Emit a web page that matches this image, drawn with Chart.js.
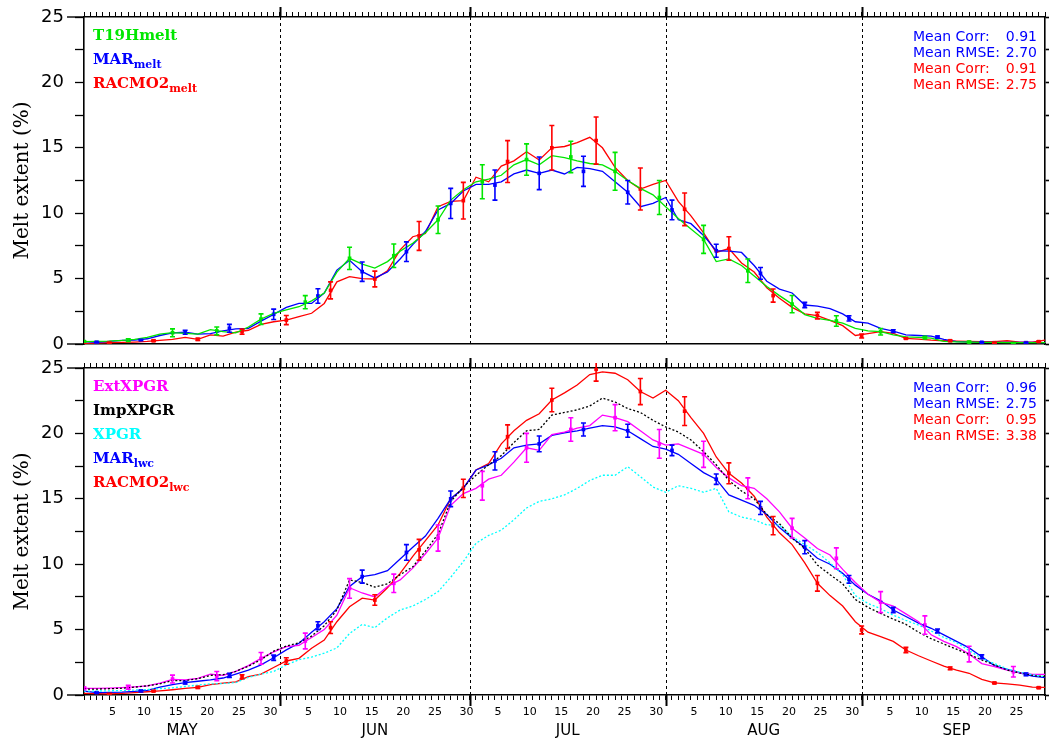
<!DOCTYPE html>
<html>
<head>
<meta charset="utf-8">
<title>Melt extent</title>
<script src="https://cdn.jsdelivr.net/npm/chart.js@4.4.1/dist/chart.umd.min.js"></script>
<style>
  html, body { margin: 0; padding: 0; background: #fff; }
  #wrap { position: relative; width: 1049px; height: 742px; }
  canvas { position: absolute; left: 0; }
  #topChart { top: 0; }
  #bottomChart { top: 356px; }
</style>
</head>
<body>
<div id="wrap">
  <canvas id="topChart" width="1049" height="356"></canvas>
  <canvas id="bottomChart" width="1049" height="386"></canvas>
</div>
<script>
// axis / category data
const MONTHS = ['MAY', 'JUN', 'JUL', 'AUG', 'SEP'];
const MONTH_START = [0, 31, 61, 92, 123];
const MONTH_LEN = [31, 30, 31, 31, 30];
const DAY_LABELS = [5, 10, 15, 20, 25, 30];
const Y_TICKS = [0, 2.5, 5, 7.5, 10, 12.5, 15, 17.5, 20, 22.5, 25];
const X_MIN = 0;
const X_MAX = 152;

// days since 1 May at which the curves were read
const DAYS = [0, 2, 4, 6, 8, 10, 12, 14, 16, 18, 20, 22, 24, 26, 28, 30, 32, 34, 36, 38,
  40, 42, 44, 46, 48, 50, 52, 54, 56, 58, 60, 62, 64, 66, 68, 70, 72, 74, 76, 78,
  80, 82, 84, 86, 88, 90, 92, 94, 96, 98, 100, 102, 104, 106, 108, 110, 112, 114, 116, 118,
  120, 122, 124, 126, 128, 130, 132, 134, 136, 138, 140, 142, 144, 146, 148, 150, 152];

// ---- top panel (melt) ----
const T19H_MELT = [0.18, 0.2, 0.22, 0.27, 0.35, 0.5, 0.75, 0.87, 0.82, 0.75,
  1.1, 0.95, 0.85, 1.3, 1.9, 2.35, 2.6, 2.85, 3.3, 3.9,
  5.5, 6.55, 6.1, 5.8, 6.3, 7.1, 7.7, 8.5, 9.5, 11.0,
  11.8, 12.4, 12.6, 12.9, 13.7, 14.1, 13.7, 14.4, 14.25, 14.0,
  13.8, 13.7, 13.2, 12.5, 11.9, 11.4, 10.5, 9.6, 8.8, 8.0,
  6.3, 6.5, 6.0, 5.2, 4.4, 3.7, 3.05, 2.25, 1.96, 1.8,
  1.6, 1.2, 1.0, 0.94, 0.7, 0.55, 0.5, 0.45, 0.2, 0.17,
  0.15, 0.13, 0.12, 0.1, 0.1, 0.1, 0.1];
const MAR_MELT = [0.18, 0.13, 0.2, 0.27, 0.3, 0.4, 0.65, 0.85, 0.9, 0.75,
  0.8, 1.0, 1.15, 1.2, 1.75, 2.27, 2.8, 3.1, 3.1, 3.9,
  5.65, 6.4, 5.53, 5.05, 5.5, 6.5, 7.6, 8.6, 10.25, 10.75,
  11.7, 12.2, 12.2, 12.4, 13.0, 13.3, 13.05, 13.3, 13.0, 13.5,
  13.4, 13.2, 12.4, 11.6, 10.5, 10.75, 11.2, 9.5, 9.2, 8.3,
  7.13, 7.1, 7.0, 6.0, 4.8, 4.2, 3.9, 2.98, 2.9, 2.7,
  2.3, 1.7, 1.6, 1.2, 0.99, 0.7, 0.65, 0.6, 0.35, 0.18,
  0.15, 0.13, 0.13, 0.13, 0.13, 0.12, 0.1];
const RACMO_MELT = [0.05, 0.07, 0.1, 0.12, 0.15, 0.2, 0.28, 0.36, 0.5, 0.36,
  0.7, 0.6, 0.9, 1.05, 1.5, 1.7, 1.83, 2.1, 2.35, 3.1,
  4.75, 5.15, 5.0, 4.97, 5.6, 7.2, 8.2, 8.45, 10.5, 10.9,
  10.96, 12.75, 12.4, 13.6, 14.0, 14.7, 14.07, 15.0, 15.1, 15.4,
  15.8, 15.0, 13.5, 12.5, 11.85, 12.2, 12.5, 10.9, 9.8, 8.5,
  7.0, 7.3, 6.2, 5.5, 4.3, 3.5, 2.8, 2.3, 2.17, 1.8,
  1.4, 0.65, 0.8, 0.94, 0.82, 0.43, 0.38, 0.3, 0.25, 0.22,
  0.2, 0.18, 0.18, 0.25, 0.15, 0.15, 0.3];

const T19H_MK_DAYS = [0, 7, 14, 21, 28, 35, 42, 49, 56, 63, 70, 77, 84, 91, 98, 105, 112, 119, 126, 133, 140, 147];
const T19H_MK = [0.18, 0.3, 0.86, 1.0, 1.9, 3.2, 6.55, 6.75, 9.5, 12.4, 14.1, 14.3, 13.2, 11.2, 8.0, 5.6, 3.05, 1.76, 0.94, 0.48, 0.15, 0.08];
const T19H_ERR = [0.05, 0.1, 0.3, 0.3, 0.4, 0.5, 0.85, 0.9, 1.05, 1.3, 1.2, 1.2, 1.45, 1.3, 1.07, 0.9, 0.66, 0.4, 0.25, 0.1, 0.05, 0.03];
const MAR_MK_DAYS = [2, 9, 16, 23, 30, 37, 44, 51, 58, 65, 72, 79, 86, 93, 100, 107, 114, 121, 128, 135, 142, 149];
const MAR_MELT_MK = [0.13, 0.3, 0.9, 1.2, 2.27, 3.67, 5.53, 7.06, 10.75, 12.15, 13.05, 13.2, 11.6, 10.25, 7.13, 5.4, 2.98, 1.96, 0.99, 0.53, 0.13, 0.1];
const MAR_MELT_ERR = [0.05, 0.05, 0.15, 0.3, 0.4, 0.55, 0.74, 0.75, 1.15, 1.15, 1.25, 1.15, 0.9, 0.75, 0.5, 0.45, 0.2, 0.2, 0.1, 0.08, 0.03, 0.03];
const RACMO_MK_DAYS = [4, 11, 18, 25, 32, 39, 46, 53, 60, 67, 74, 81, 88, 95, 102, 109, 116, 123, 130, 137, 144, 151];
const RACMO_MELT_MK = [0.1, 0.25, 0.36, 0.94, 1.83, 4.1, 4.97, 8.26, 10.96, 13.95, 15.0, 15.55, 11.85, 10.3, 7.3, 3.7, 2.17, 0.61, 0.43, 0.25, 0.1, 0.18];
const RACMO_MELT_ERR = [0.05, 0.05, 0.08, 0.2, 0.35, 0.65, 0.6, 1.1, 1.4, 1.6, 1.7, 1.8, 1.6, 1.25, 0.9, 0.5, 0.25, 0.15, 0.05, 0.05, 0.03, 0.05];

// ---- bottom panel (liquid water content) ----
const EXT_XPGR = [0.5, 0.5, 0.52, 0.56, 0.62, 0.7, 0.9, 1.2, 1.15, 1.27,
  1.6, 1.5, 1.8, 2.25, 2.8, 3.3, 3.7, 3.8, 4.4, 5.0,
  6.1, 8.2, 7.8, 7.5, 8.3, 8.8, 9.7, 10.8, 12.0, 14.5,
  15.4, 15.8, 16.5, 16.8, 17.8, 18.9, 18.7, 19.9, 20.1, 20.4,
  20.6, 21.4, 21.2, 20.9, 20.2, 19.5, 19.1, 19.2, 18.8, 18.4,
  17.4, 16.6, 16.0, 15.8, 15.0, 14.0, 12.75, 12.0, 11.2, 10.7,
  9.6, 8.6, 7.7, 7.1, 6.8, 6.2, 5.6, 4.6, 4.1, 3.7,
  3.13, 2.4, 2.17, 1.9, 1.7, 1.58, 1.58];
const IMP_XPGR = [0.45, 0.45, 0.48, 0.52, 0.6, 0.7, 0.85, 1.1, 1.1, 1.25,
  1.5, 1.55, 1.8, 2.2, 2.7, 3.35, 3.75, 4.0, 4.5, 5.3,
  6.5, 8.8, 8.6, 8.25, 8.5, 9.2, 9.8, 11.0, 12.3, 14.8,
  15.9, 16.8, 17.6, 18.3, 19.3, 20.2, 20.3, 21.4, 21.6, 21.8,
  22.1, 22.7, 22.4, 21.9, 21.6, 21.0, 20.5, 20.1, 19.5, 18.6,
  17.6, 16.4, 15.6, 15.0, 13.8, 13.1, 12.0, 11.2, 9.94, 9.2,
  8.5, 7.3, 6.7, 6.24, 5.8, 5.4, 4.8, 4.3, 3.9, 3.5,
  3.1, 2.68, 2.3, 1.9, 1.7, 1.5, 1.4];
const XPGR = [0.3, 0.3, 0.32, 0.34, 0.38, 0.42, 0.48, 0.55, 0.65, 0.76,
  0.85, 0.88, 0.95, 1.35, 1.6, 1.8, 2.3, 2.7, 2.9, 3.2,
  3.6, 4.7, 5.4, 5.15, 5.9, 6.5, 6.8, 7.3, 7.9, 9.0,
  10.2, 11.6, 12.2, 12.6, 13.4, 14.3, 14.8, 15.0, 15.3, 15.8,
  16.4, 16.8, 16.8, 17.45, 16.7, 15.9, 15.5, 16.0, 15.8, 15.5,
  15.8, 14.0, 13.6, 13.4, 13.0, 13.0, 12.1, 11.5, 10.9, 10.1,
  9.2, 7.6, 7.0, 6.6, 6.1, 5.7, 5.35, 4.9, 4.4, 4.0,
  3.4, 2.8, 2.4, 2.0, 1.75, 1.55, 1.4];
const MAR_LWC = [0.3, 0.18, 0.2, 0.22, 0.27, 0.35, 0.6, 0.8, 0.94, 1.05,
  1.15, 1.3, 1.6, 1.9, 2.3, 2.85, 3.45, 3.95, 4.8, 5.6,
  6.6, 8.3, 9.05, 9.2, 9.5, 10.4, 11.3, 12.15, 13.5, 15.0,
  15.8, 17.2, 17.6, 18.1, 18.9, 19.1, 19.2, 19.85, 20.05, 20.2,
  20.4, 20.6, 20.5, 20.2, 19.6, 19.0, 18.8, 18.4, 17.7, 17.0,
  16.5, 15.3, 14.9, 14.5, 13.8, 12.8, 12.0, 11.3, 10.45, 10.0,
  9.3, 8.4, 7.7, 7.2, 6.5, 6.0, 5.5, 5.1, 4.6, 4.1,
  3.6, 2.93, 2.25, 1.95, 1.7, 1.45, 1.33];
const RACMO_LWC = [0.12, 0.1, 0.08, 0.12, 0.18, 0.25, 0.32, 0.4, 0.5, 0.59,
  0.8, 0.9, 1.0, 1.4, 1.6, 2.1, 2.6, 2.8, 3.57, 4.2,
  5.6, 6.75, 7.4, 7.26, 8.2, 9.3, 10.6, 11.8, 13.0, 15.0,
  15.8, 17.2, 17.7, 19.2, 20.2, 21.0, 21.5, 22.55, 23.1, 23.7,
  24.5, 24.7, 24.6, 24.1, 23.2, 22.7, 23.3, 22.5, 21.2, 20.0,
  18.2, 16.95, 16.2, 15.2, 13.6, 12.4, 11.5, 10.1, 8.54, 7.6,
  6.8, 5.6, 4.8, 4.46, 4.1, 3.44, 3.0, 2.6, 2.2, 1.9,
  1.66, 1.2, 0.92, 0.85, 0.76, 0.6, 0.58];

const EXT_MK_DAYS = [0, 7, 14, 21, 28, 35, 42, 49, 56, 63, 70, 77, 84, 91, 98, 105, 112, 119, 126, 133, 140, 147];
const EXT_MK = [0.5, 0.59, 1.22, 1.45, 2.8, 4.13, 8.15, 8.54, 12.0, 16.0, 18.9, 20.3, 21.2, 19.2, 18.4, 15.8, 12.75, 10.45, 7.1, 5.35, 3.13, 1.78];
const EXT_ERR = [0.1, 0.15, 0.3, 0.35, 0.45, 0.6, 0.75, 0.7, 1.0, 1.1, 1.1, 0.9, 1.0, 1.1, 1.0, 0.8, 0.75, 0.8, 0.8, 0.7, 0.6, 0.4];
const MAR_LWC_MK = [0.18, 0.3, 0.94, 1.5, 2.85, 5.3, 9.05, 10.9, 15.0, 17.9, 19.2, 20.3, 20.2, 18.7, 16.5, 14.3, 11.3, 8.84, 6.5, 4.9, 2.93, 1.58];
const MAR_LWC_ERR = [0.05, 0.07, 0.1, 0.15, 0.2, 0.3, 0.5, 0.6, 0.6, 0.7, 0.6, 0.5, 0.5, 0.4, 0.4, 0.5, 0.5, 0.3, 0.2, 0.15, 0.15, 0.1];
const RACMO_LWC_MK = [0.08, 0.3, 0.59, 1.4, 2.6, 5.15, 7.26, 11.1, 15.8, 19.75, 22.55, 24.9, 23.2, 21.7, 16.95, 12.95, 8.54, 4.97, 3.44, 2.04, 0.92, 0.56];
const RACMO_LWC_ERR = [0.05, 0.05, 0.08, 0.15, 0.25, 0.45, 0.4, 0.8, 0.7, 0.9, 0.9, 0.9, 1.0, 1.1, 0.8, 0.7, 0.6, 0.3, 0.2, 0.1, 0.06, 0.05];

// legend texts [main, subscript] and statistics
const LEGEND_TOP = [['T19Hmelt', ''], ['MAR', 'melt'], ['RACMO2', 'melt']];
const LEGEND_BOTTOM = [['ExtXPGR', ''], ['ImpXPGR', ''], ['XPGR', ''], ['MAR', 'lwc'], ['RACMO2', 'lwc']];
const STATS_TOP = [['Mean Corr:', '0.91'], ['Mean RMSE:', '2.70'], ['Mean Corr:', '0.91'], ['Mean RMSE:', '2.75']];
const STATS_BOTTOM = [['Mean Corr:', '0.96'], ['Mean RMSE:', '2.75'], ['Mean Corr:', '0.95'], ['Mean RMSE:', '3.38']];

// colours
const GREEN = '#00e600';
const BLUE = '#0000ff';
const RED = '#ff0000';
const MAGENTA = '#ff00ff';
const CYAN = '#00ffff';
const BLACK = '#000000';

Chart.defaults.font.family = 'DejaVu Sans';
Chart.defaults.color = '#000';

const pts = (xs, ys) => xs.map((x, i) => ({ x: x, y: ys[i] }));

function lineSet(label, values, color, dash) {
    return {
        type: 'line', label: label, data: pts(DAYS, values),
        borderColor: color, borderWidth: 1.3, borderDash: dash || [],
        pointRadius: 0, tension: 0, fill: false
    };
}

function markerSet(label, days, values, errors, color) {
    return {
        type: 'scatter', label: label, data: pts(days, values), errors: errors,
        backgroundColor: color, borderColor: color, borderWidth: 0,
        pointStyle: 'rect', pointRadius: 2.6
    };
}

function dayTicks() {
    const t = [];
    for (let d = X_MIN; d <= X_MAX; d++) t.push({ value: d });
    return t;
}

// day-of-month labels sit in the middle of their day
const LABEL_TICKS = [];
MONTH_START.forEach((start, m) => {
    DAY_LABELS.forEach(day => {
        const pos = start + day - 0.5;
        if (day <= MONTH_LEN[m] && pos <= X_MAX) LABEL_TICKS.push({ value: pos, text: String(day) });
    });
});

// keep the plot area fixed: no extra room for half labels
function fixH(h) {
    return s => { s.height = h; s.paddingLeft = 0; s.paddingRight = 0; };
}
function fixW(w) {
    return s => { s.width = w; s.paddingTop = 0; s.paddingBottom = 0; };
}

// error bars for marker datasets
const errorBars = {
    id: 'errorBars',
    afterDatasetsDraw(chart) {
        const { ctx, scales: { x, y } } = chart;
        ctx.save();
        ctx.beginPath();
        ctx.rect(chart.chartArea.left, chart.chartArea.top - 5, chart.chartArea.width, chart.chartArea.height + 5);
        ctx.clip();
        chart.data.datasets.forEach(ds => {
            if (!ds.errors) return;
            ctx.strokeStyle = ds.borderColor;
            ctx.lineWidth = 1.6;
            ds.data.forEach((p, i) => {
                const e = ds.errors[i];
                const px = x.getPixelForValue(p.x);
                const y1 = y.getPixelForValue(p.y - e);
                const y2 = y.getPixelForValue(p.y + e);
                ctx.beginPath();
                ctx.moveTo(px, y1); ctx.lineTo(px, y2);
                ctx.moveTo(px - 2.5, y1); ctx.lineTo(px + 2.5, y1);
                ctx.moveTo(px - 2.5, y2); ctx.lineTo(px + 2.5, y2);
                ctx.stroke();
            });
        });
        ctx.restore();
    }
};

// dashed month separators and long month ticks
const monthLines = {
    id: 'monthLines',
    beforeDatasetsDraw(chart) {
        const { ctx, chartArea: a, scales: { x } } = chart;
        ctx.save();
        ctx.strokeStyle = '#000';
        ctx.lineWidth = 1;
        ctx.setLineDash([3, 3]);
        MONTH_START.slice(1).forEach(d => {
            const px = Math.round(x.getPixelForValue(d)) + 0.5;
            ctx.beginPath(); ctx.moveTo(px, a.top); ctx.lineTo(px, a.bottom); ctx.stroke();
        });
        ctx.restore();
    },
    afterDraw(chart, args, opts) {
        const { ctx, chartArea: a, scales: { x, y } } = chart;
        ctx.save();
        ctx.strokeStyle = '#000';
        ctx.lineWidth = 2;
        MONTH_START.slice(1).forEach(d => {
            const px = Math.round(x.getPixelForValue(d)) + 0.5;
            ctx.beginPath(); ctx.moveTo(px, a.top); ctx.lineTo(px, a.top - 10); ctx.stroke();
            if (opts.bottom) {
                ctx.beginPath(); ctx.moveTo(px, a.bottom); ctx.lineTo(px, a.bottom + 11); ctx.stroke();
            }
        });
        ctx.lineWidth = 1.4;
        [0, 25].forEach(v => {
            const py = y.getPixelForValue(v);
            ctx.beginPath(); ctx.moveTo(a.left - 17, py); ctx.lineTo(a.left, py); ctx.stroke();
        });
        ctx.restore();
    }
};

// in-panel legend and statistics text
const panelText = {
    id: 'panelText',
    afterDraw(chart, args, opts) {
        const { ctx, chartArea: a } = chart;
        ctx.save();
        ctx.textBaseline = 'middle';
        opts.legend.forEach((item, i) => {
            const yy = a.top + 19 + i * 24;
            ctx.fillStyle = opts.legendColors[i];
            ctx.font = 'bold 15px "DejaVu Serif"';
            ctx.textAlign = 'left';
            ctx.fillText(item[0], a.left + 9, yy);
            if (item[1]) {
                const w = ctx.measureText(item[0]).width;
                ctx.font = 'bold 11px "DejaVu Serif"';
                ctx.fillText(item[1], a.left + 9 + w, yy + 5);
            }
        });
        ctx.font = '14px "DejaVu Sans"';
        opts.stats.forEach((row, i) => {
            const yy = a.top + 20 + i * 16;
            ctx.fillStyle = opts.statColors[i];
            ctx.textAlign = 'left';
            ctx.fillText(row[0], a.right - 132, yy);
            ctx.textAlign = 'right';
            ctx.fillText(row[1], a.right - 8, yy);
        });
        ctx.restore();
    }
};

function yAxes() {
    return {
        y: {
            position: 'left', min: 0, max: 25,
            afterBuildTicks: s => { s.ticks = Y_TICKS.map(v => ({ value: v })); },
            ticks: {
                autoSkip: false, padding: 11, color: '#000',
                font: { family: 'DejaVu Sans', size: 18 },
                callback: v => (v % 5 === 0 ? String(v) : '')
            },
            grid: { drawOnChartArea: false, tickLength: 9, tickColor: '#000', tickWidth: 1.3 },
            border: { color: '#000', width: 1.6 },
            title: {
                display: true, text: 'Melt extent (%)', color: '#000',
                font: { family: 'DejaVu Serif', size: 20 }, padding: { top: 11, bottom: 0 }
            },
            afterFit: fixW(84)
        },
        yr: {
            position: 'right', min: 0, max: 25,
            afterBuildTicks: s => { s.ticks = Y_TICKS.map(v => ({ value: v })); },
            ticks: { display: false },
            grid: { drawOnChartArea: false, tickLength: 4, tickColor: '#000', tickWidth: 1.6 },
            border: { color: '#000', width: 1.6 },
            afterFit: fixW(4)
        }
    };
}

function topTickAxis(h) {
    return {
        type: 'linear', position: 'top', min: X_MIN, max: X_MAX,
        afterBuildTicks: s => { s.ticks = dayTicks(); },
        ticks: { display: false },
        grid: { drawOnChartArea: false, tickLength: 5, tickColor: '#000', tickWidth: 1 },
        border: { color: '#000', width: 1.6 },
        afterFit: fixH(h)
    };
}

const baseOptions = {
    responsive: false,
    animation: false,
    layout: { padding: 0 },
    events: []
};

// ---- top chart ----
new Chart(document.getElementById('topChart'), {
    type: 'line',
    data: {
        datasets: [
            lineSet('T19Hmelt', T19H_MELT, GREEN),
            lineSet('MARmelt', MAR_MELT, BLUE),
            lineSet('RACMO2melt', RACMO_MELT, RED),
            markerSet('T19Hmelt obs', T19H_MK_DAYS, T19H_MK, T19H_ERR, GREEN),
            markerSet('MARmelt pts', MAR_MK_DAYS, MAR_MELT_MK, MAR_MELT_ERR, BLUE),
            markerSet('RACMO2melt pts', RACMO_MK_DAYS, RACMO_MELT_MK, RACMO_MELT_ERR, RED)
        ]
    },
    options: Object.assign({}, baseOptions, {
        scales: Object.assign({
            x: {
                type: 'linear', position: 'bottom', min: X_MIN, max: X_MAX,
                afterBuildTicks: s => { s.ticks = [{ value: X_MIN }, { value: X_MAX }]; },
                ticks: { display: false },
                grid: { display: false, drawTicks: false },
                border: { color: '#000', width: 1.6 },
                afterFit: fixH(12)
            },
            xt: topTickAxis(17)
        }, yAxes()),
        plugins: {
            legend: { display: false },
            tooltip: { enabled: false },
            monthLines: { bottom: false },
            panelText: {
                legend: LEGEND_TOP, legendColors: [GREEN, BLUE, RED],
                stats: STATS_TOP, statColors: [BLUE, BLUE, RED, RED]
            }
        }
    }),
    plugins: [monthLines, errorBars, panelText]
});

// ---- bottom chart ----
new Chart(document.getElementById('bottomChart'), {
    type: 'line',
    data: {
        datasets: [
            lineSet('XPGR', XPGR, CYAN, [2, 2]),
            lineSet('ImpXPGR', IMP_XPGR, BLACK, [2, 2]),
            lineSet('ExtXPGR', EXT_XPGR, MAGENTA),
            lineSet('MARlwc', MAR_LWC, BLUE),
            lineSet('RACMO2lwc', RACMO_LWC, RED),
            markerSet('ExtXPGR pts', EXT_MK_DAYS, EXT_MK, EXT_ERR, MAGENTA),
            markerSet('MARlwc pts', MAR_MK_DAYS, MAR_LWC_MK, MAR_LWC_ERR, BLUE),
            markerSet('RACMO2lwc pts', RACMO_MK_DAYS, RACMO_LWC_MK, RACMO_LWC_ERR, RED)
        ]
    },
    options: Object.assign({}, baseOptions, {
        scales: Object.assign({
            x: {
                type: 'linear', position: 'bottom', min: X_MIN, max: X_MAX, weight: 0,
                afterBuildTicks: s => {
                    s.ticks = dayTicks().concat(LABEL_TICKS.map(t => ({ value: t.value })))
                        .sort((a, b) => a.value - b.value);
                },
                ticks: {
                    autoSkip: false, maxRotation: 0, minRotation: 0, padding: 6, color: '#000',
                    font: { family: 'DejaVu Sans', size: 11 },
                    callback: v => {
                        const t = LABEL_TICKS.find(l => Math.abs(l.value - v) < 1e-6);
                        return t ? t.text : '';
                    }
                },
                grid: {
                    drawOnChartArea: false, tickLength: 5, tickWidth: 1,
                    tickColor: c => (Number.isInteger(c.tick.value) ? '#000' : 'rgba(0,0,0,0)')
                },
                border: { color: '#000', width: 1.6 },
                afterFit: fixH(22)
            },
            xm: {
                type: 'linear', position: 'bottom', min: X_MIN, max: X_MAX, weight: 1,
                afterBuildTicks: s => { s.ticks = MONTH_START.map((d, i) => ({ value: d + MONTH_LEN[i] / 2 })); },
                ticks: {
                    autoSkip: false, maxRotation: 0, minRotation: 0, padding: 5, color: '#000',
                    font: { family: 'DejaVu Sans', size: 15 },
                    callback: (v, i) => MONTHS[i]
                },
                grid: { display: false, drawTicks: false },
                border: { display: false },
                afterFit: fixH(25)
            },
            xt: topTickAxis(12)
        }, yAxes()),
        plugins: {
            legend: { display: false },
            tooltip: { enabled: false },
            monthLines: { bottom: true },
            panelText: {
                legend: LEGEND_BOTTOM, legendColors: [MAGENTA, BLACK, CYAN, BLUE, RED],
                stats: STATS_BOTTOM, statColors: [BLUE, BLUE, RED, RED]
            }
        }
    }),
    plugins: [monthLines, errorBars, panelText]
});
</script>
</body>
</html>
